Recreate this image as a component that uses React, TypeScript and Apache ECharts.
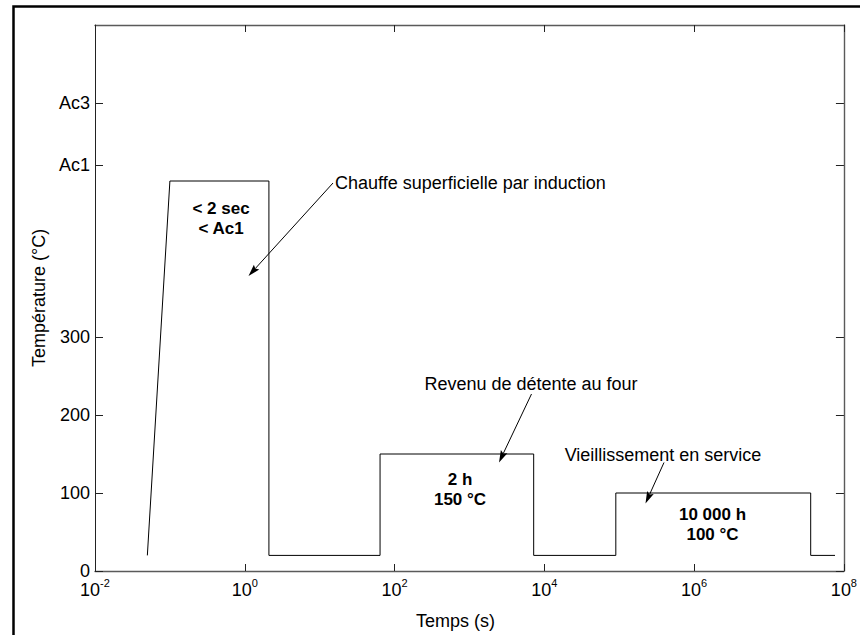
import React, { useEffect, useRef } from "react";
import * as echarts from "echarts";

// Thermal history: time in seconds, temperature in °C
const timeSec = [0.05, 0.1, 2.1, 2.1, 64, 64, 7200, 7200, 9e4, 9e4, 3.6e7, 3.6e7, 7.6e7];
const tempC = [20, 500, 500, 20, 20, 150, 150, 20, 20, 100, 100, 20, 20];

// Axis ticks
const xTickExponents = [-2, 0, 2, 4, 6, 8];
const yTickValues = [0, 100, 200, 300, 520, 600];
const yTickLabels = ["0", "100", "200", "300", "Ac1", "Ac3"];

const FONT = "'Liberation Sans', Arial, Helvetica, sans-serif";
const AXIS_GREY = "#5a5a5a";

// Callout texts and arrows (pixel layout)
const notes = [
  { text: "Chauffe superficielle par induction", x: 335, y: 183, align: "left", bold: false },
  { text: "< 2 sec\n< Ac1", x: 221, y: 218.5, align: "center", bold: true },
  { text: "Revenu de détente au four", x: 531, y: 384, align: "center", bold: false },
  { text: "2 h\n150 °C", x: 460, y: 489, align: "center", bold: true },
  { text: "Vieillissement en service", x: 663, y: 455, align: "center", bold: false },
  { text: "10 000 h\n100 °C", x: 712.5, y: 524, align: "center", bold: true },
];
const arrows = [
  [333, 183, 248.5, 276],
  [531.5, 394, 499, 462.5],
  [664, 462.5, 645.5, 503.5],
];

function arrowShapes(x1: number, y1: number, x2: number, y2: number) {
  const ang = Math.atan2(y2 - y1, x2 - x1);
  const c = Math.cos(ang);
  const s = Math.sin(ang);
  const L = 12;
  const W = 3.6;
  const bx = x2 - L * c;
  const by = y2 - L * s;
  return [
    {
      type: "line",
      silent: true,
      shape: { x1, y1, x2: bx + 2 * c, y2: by + 2 * s },
      style: { stroke: "#000", lineWidth: 1 },
    },
    {
      type: "polygon",
      silent: true,
      shape: {
        points: [
          [x2, y2],
          [bx - s * W, by + c * W],
          [bx + 2 * c, by + 2 * s],
          [bx + s * W, by - c * W],
        ],
      },
      style: { fill: "#000" },
    },
  ];
}

export default function App() {
  const ref = useRef<HTMLDivElement>(null);

  useEffect(() => {
    if (!ref.current) return;
    const chart = echarts.init(ref.current, undefined, { renderer: "svg" });

    const points = timeSec.map((t, i) => [Math.log10(t), tempC[i]]);

    const xLabelFormatter = (v: number) =>
      xTickExponents.indexOf(v) >= 0 ? `{b|10}{sup|${v}}` : "";
    const yLabelFormatter = (v: number) => {
      const i = yTickValues.indexOf(v);
      return i >= 0 ? yTickLabels[i] : "";
    };

    const greyLine = { show: true, onZero: false, lineStyle: { color: AXIS_GREY, width: 1.4 } };
    const axisTickX = {
      show: true,
      inside: true,
      length: 7,
      lineStyle: { color: "#222", width: 1 },
    };
    const axisTickY = {
      show: true,
      inside: true,
      length: 8,
      customValues: yTickValues,
      lineStyle: { color: "#222", width: 1 },
    };

    const graphic: any[] = [
      {
        type: "rect",
        silent: true,
        z: 100,
        shape: { x: 13.5, y: 6.5, width: 900, height: 700 },
        style: { fill: "none", stroke: "#000", lineWidth: 2.5 },
      },
    ];
    notes.forEach((n) => {
      graphic.push({
        type: "text",
        silent: true,
        x: n.x,
        y: n.y,
        style: {
          text: n.text,
          fill: "#000",
          fontFamily: FONT,
          fontSize: n.bold ? 17 : 18,
          fontWeight: n.bold ? "bold" : "normal",
          lineHeight: 20,
          align: n.align,
          verticalAlign: "middle",
          textAlign: n.align,
          textVerticalAlign: "middle",
        },
      });
    });
    arrows.forEach((a) => graphic.push(...arrowShapes(a[0], a[1], a[2], a[3])));

    chart.setOption({
      animation: false,
      backgroundColor: "#fff",
      grid: { left: 95, top: 25, right: 13, bottom: 61.5, containLabel: false },
      xAxis: [
        {
          type: "value",
          position: "bottom",
          min: -2,
          max: 8,
          interval: 2,
          name: "Temps (s)",
          nameLocation: "middle",
          nameGap: 41,
          nameTextStyle: {
            color: "#000",
            fontFamily: FONT,
            fontSize: 18,
            verticalAlign: "top",
            padding: [0, 28, 0, 0],
          },
          axisLine: greyLine,
          axisTick: axisTickX,
          splitLine: { show: false },
          axisLabel: {
            show: true,
            margin: 6,
            color: "#000",
            formatter: xLabelFormatter,
            rich: {
              b: { fontFamily: FONT, fontSize: 18, lineHeight: 26, color: "#000" },
              sup: {
                fontFamily: FONT,
                fontSize: 11,
                lineHeight: 11,
                verticalAlign: "top",
                color: "#000",
              },
            },
          },
        },
        {
          type: "value",
          position: "top",
          min: -2,
          max: 8,
          interval: 2,
          axisLine: greyLine,
          axisTick: axisTickX,
          axisLabel: { show: false },
          splitLine: { show: false },
        },
      ],
      yAxis: [
        {
          type: "value",
          position: "left",
          min: 0,
          max: 700,
          name: "Température (°C)",
          nameLocation: "middle",
          nameGap: 44,
          nameTextStyle: { color: "#000", fontFamily: FONT, fontSize: 18 },
          axisLine: { show: true, onZero: false, lineStyle: { color: "#222", width: 1 } },
          axisTick: axisTickY,
          axisLabel: {
            show: true,
            margin: 5,
            color: "#000",
            fontFamily: FONT,
            fontSize: 18,
            customValues: yTickValues,
            formatter: yLabelFormatter,
          },
          splitLine: { show: false },
        },
        {
          type: "value",
          position: "right",
          min: 0,
          max: 700,
          axisLine: greyLine,
          axisTick: axisTickY,
          axisLabel: { show: false },
          splitLine: { show: false },
        },
      ],
      series: [
        {
          type: "line",
          xAxisIndex: 0,
          yAxisIndex: 0,
          data: points,
          symbol: "none",
          showSymbol: false,
          lineStyle: { color: "#000", width: 1 },
          silent: true,
        },
      ],
      graphic,
    });

    return () => chart.dispose();
  }, []);

  return (
    <div
      ref={ref}
      style={{ position: "fixed", left: 0, top: 0, width: 860, height: 635, background: "#fff" }}
    />
  );
}
